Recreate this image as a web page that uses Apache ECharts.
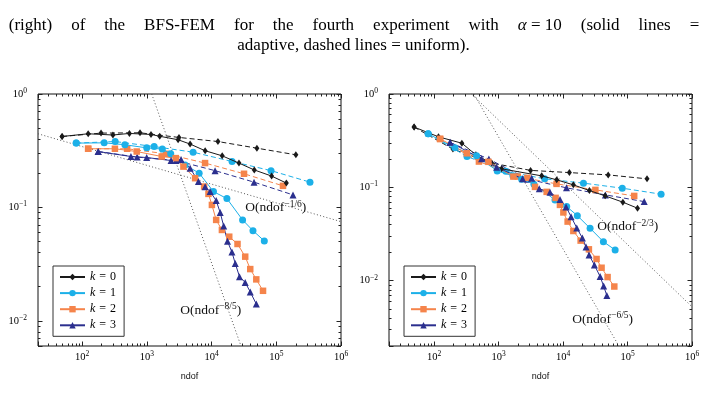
<!DOCTYPE html>
<html><head><meta charset="utf-8">
<script src="https://cdn.jsdelivr.net/npm/echarts@6/dist/echarts.min.js"></script>
<style>html,body{margin:0;padding:0;background:#fff}#c{width:707px;height:412px}</style>
</head><body><div id="c"></div>
<script>
// ---------------- data ----------------
const legendNames = ['k = 0', 'k = 1', 'k = 2', 'k = 3'];
const xTickValues = [1e2, 1e3, 1e4, 1e5, 1e6];
const yTickValuesLeft = [1e-2, 1e-1, 1];
const yTickValuesRight = [1e-2, 1e-1, 1];

// uniform refinement (dashed), same meshes in both panels
const ndofUniformK0 = [49, 196, 784, 3136, 12544, 50176, 200704];
const ndofUniformK1 = [81, 324, 1296, 5184, 20736, 82944, 331776];
const ndofUniformK2 = [124, 496, 1984, 7936, 31744, 126976];
const ndofUniformK3 = [177, 708, 2832, 11328, 45312, 181248];

// left panel
const errUniformLeftK0 = [0.422, 0.452, 0.455, 0.414, 0.381, 0.333, 0.291];
const errUniformLeftK1 = [0.369, 0.381, 0.344, 0.307, 0.254, 0.211, 0.167];
const errUniformLeftK2 = [0.329, 0.329, 0.297, 0.246, 0.198, 0.155];
const errUniformLeftK3 = [0.311, 0.2777, 0.259, 0.211, 0.167, 0.129];

const ndofAdaptLeftK0 = [49, 124, 299, 538, 1159, 1581, 3040, 4660, 7960, 14600, 26500, 45700, 84700, 143000];
const errAdaptLeftK0 = [0.422, 0.446, 0.435, 0.449, 0.440, 0.424, 0.395, 0.362, 0.316, 0.285, 0.246, 0.214, 0.189, 0.164];
const ndofAdaptLeftK1 = [81, 219, 458, 995, 1734, 2339, 3900, 6427, 10690, 17260, 30140, 43650, 65300];
const errAdaptLeftK1 = [0.369, 0.371, 0.357, 0.335, 0.327, 0.297, 0.237, 0.2005, 0.138, 0.1196, 0.0776, 0.0624, 0.0506];
const ndofAdaptLeftK2 = [124, 321, 697, 1698, 2800, 3673, 5571, 7674, 8955, 10120, 11780, 14450, 18750, 25180, 33110, 39600, 49100, 62400];
const errAdaptLeftK2 = [0.329, 0.329, 0.311, 0.281, 0.272, 0.229, 0.181, 0.1527, 0.1316, 0.1052, 0.0776, 0.0633, 0.0552, 0.0476, 0.0368, 0.0286, 0.0232, 0.0184];
const ndofAdaptLeftK3 = [177, 568, 995, 2366, 3381, 4660, 6268, 7960, 9506, 11780, 13590, 15380, 17620, 20630, 23210, 27040, 33110, 39600, 49100];
const errAdaptLeftK3 = [0.311, 0.281, 0.2754, 0.259, 0.2644, 0.222, 0.169, 0.1518, 0.138, 0.1149, 0.0900, 0.0686, 0.0503, 0.0404, 0.0321, 0.0245, 0.0218, 0.0180, 0.01405];

// right panel
const errUniformRightK0 = [0.4425, 0.257, 0.182, 0.152, 0.144, 0.136, 0.1234];
const errUniformRightK1 = [0.375, 0.214, 0.1485, 0.1234, 0.111, 0.098, 0.0845];
const errUniformRightK2 = [0.329, 0.189, 0.1305, 0.109, 0.094, 0.081];
const errUniformRightK3 = [0.3025, 0.2007, 0.1225, 0.0988, 0.0831, 0.0704];

const ndofAdaptRightK0 = [49, 117, 270, 445, 1114, 4667, 7980, 14450, 25650, 44980, 84700, 142900];
const errAdaptRightK0 = [0.4425, 0.348, 0.297, 0.223, 0.158, 0.1328, 0.1204, 0.1064, 0.0924, 0.0811, 0.0694, 0.0598];
const ndofAdaptRightK1 = [81, 210, 456, 953, 1671, 2281, 3540, 7506, 11400, 16660, 26270, 42270, 64300];
const errAdaptRightK1 = [0.375, 0.265, 0.218, 0.150, 0.133, 0.1225, 0.1082, 0.0734, 0.0622, 0.0498, 0.0365, 0.0262, 0.02135];
const ndofAdaptRightK2 = [124, 321, 697, 1698, 2800, 3673, 5571, 7674, 8955, 10120, 11780, 14450, 18750, 25180, 33110, 39600, 49100, 62400];
const errAdaptRightK2 = [0.3314, 0.2316, 0.1877, 0.1305, 0.1264, 0.1012, 0.0895, 0.0772, 0.0649, 0.0539, 0.0430, 0.0341, 0.0269, 0.0217, 0.0171, 0.01378, 0.01095, 0.00867];
const ndofAdaptRightK3 = [177, 545, 933, 2364, 3263, 4282, 6281, 8980, 11140, 13315, 16330, 19950, 22770, 25350, 30640, 37580, 42600, 47800];
const errAdaptRightK3 = [0.304, 0.2022, 0.1647, 0.1234, 0.1255, 0.0964, 0.0888, 0.0743, 0.0618, 0.0486, 0.0368, 0.0287, 0.0230, 0.01887, 0.01474, 0.01109, 0.00877, 0.00694];

// reference rate lines: end points where they meet the frame
const rateLeftSlow = [[20.8, 0.446], [1e6, 0.0749]];      // O(ndof^-1/6)
const rateLeftFast = [[1189, 1], [28500, 0.006]];         // O(ndof^-8/5)
const rateRightSlow = [[381, 1], [1e6, 0.00526]];         // O(ndof^-2/3)
const rateRightFast = [[414, 1], [73400, 0.002]];         // O(ndof^-6/5)

// caption words (second and third visible lines)
const captionLine2 = ['(right)', 'of', 'the', 'BFS-FEM', 'for', 'the', 'fourth', 'experiment', 'with', '\u03b1 = 10', '(solid', 'lines', '='];
const captionLine3 = 'adaptive, dashed lines = uniform).';

// ---------------- styling ----------------
const SERIF = '"Liberation Serif","DejaVu Serif",serif';
const COLORS = ['#1a1a1a', '#1cb0e8', '#f5844b', '#2b2f8e'];
const SYMBOLS = ['diamond', 'circle', 'rect', 'triangle'];
const SYMSIZE = [[5, 7], 7, 6.5, 7];

function zip(xs, ys) { return xs.map((x, i) => [x, ys[i]]); }

function minorValues(lo, hi) {
  const out = [];
  for (let e = -4; e <= 6; e++) for (let m = 2; m <= 9; m++) {
    const v = m * Math.pow(10, e);
    if (v > lo && v < hi) out.push(v);
  }
  return out;
}
function powLabel(v) {
  const l = Math.log10(v), e = Math.round(l);
  if (Math.abs(l - e) > 1e-6) return '';
  return '{b|10}{s|' + (e < 0 ? '\u2212' + (-e) : e) + '}';
}
const tickRich = {
  b: { fontFamily: SERIF, fontSize: 10.5, lineHeight: 14, color: '#000' },
  s: { fontFamily: SERIF, fontSize: 7.5, lineHeight: 8, verticalAlign: 'top', color: '#000' }
};
const tickLine = { color: '#222', width: 1 };

function xAxesFor(grid, min) {
  const base = { type: 'log', logBase: 10, gridIndex: grid, min: min, max: 1e6,
    axisLine: { show: false, onZero: false }, splitLine: { show: false },
    minorTick: { show: false }, minorSplitLine: { show: false } };
  const minors = minorValues(min, 1e6);
  return [
    Object.assign({}, base, { position: 'bottom', name: 'ndof', nameLocation: 'middle', nameGap: 26,
      nameTextStyle: { fontFamily: '"Liberation Sans", sans-serif', fontSize: 9, color: '#111' },
      axisTick: { inside: true, length: 4.5, lineStyle: tickLine },
      axisLabel: { interval: 0, margin: 4, formatter: powLabel, rich: tickRich } }),
    Object.assign({}, base, { position: 'top', axisTick: { inside: true, length: 4.5, lineStyle: tickLine }, axisLabel: { show: false } }),
    Object.assign({}, base, { position: 'bottom', axisTick: { inside: true, length: 2.5, lineStyle: tickLine, customValues: minors }, axisLabel: { show: false } }),
    Object.assign({}, base, { position: 'top', axisTick: { inside: true, length: 2.5, lineStyle: tickLine, customValues: minors }, axisLabel: { show: false } })
  ];
}
function yAxesFor(grid, min) {
  const base = { type: 'log', logBase: 10, gridIndex: grid, min: min, max: 1,
    axisLine: { show: false, onZero: false }, splitLine: { show: false },
    minorTick: { show: false }, minorSplitLine: { show: false } };
  const minors = minorValues(min, 1);
  return [
    Object.assign({}, base, { position: 'left',
      axisTick: { inside: true, length: 4.5, lineStyle: tickLine },
      axisLabel: { interval: 0, margin: 11, formatter: powLabel, rich: tickRich } }),
    Object.assign({}, base, { position: 'right', axisTick: { inside: true, length: 4.5, lineStyle: tickLine }, axisLabel: { show: false } }),
    Object.assign({}, base, { position: 'left', axisTick: { inside: true, length: 2.5, lineStyle: tickLine, customValues: minors }, axisLabel: { show: false } }),
    Object.assign({}, base, { position: 'right', axisTick: { inside: true, length: 2.5, lineStyle: tickLine, customValues: minors }, axisLabel: { show: false } })
  ];
}

function dataSeries(name, xs, ys, k, dashed, axisIdx) {
  return {
    type: 'line', name: name, xAxisIndex: axisIdx, yAxisIndex: axisIdx,
    data: zip(xs, ys), symbol: SYMBOLS[k], symbolSize: SYMSIZE[k], showAllSymbol: true,
    lineStyle: { color: COLORS[k], width: 1, type: dashed ? [5, 3] : 'solid' },
    itemStyle: { color: COLORS[k] }, silent: true, animation: false,
    emphasis: { disabled: true }, z: dashed ? 3 : 4
  };
}
const rateRich = {
  m: { fontFamily: SERIF, fontSize: 13.5, lineHeight: 17, color: '#111' },
  p: { fontFamily: SERIF, fontSize: 9.5, lineHeight: 11, verticalAlign: 'top', color: '#111' }
};
function rateSeries(pts, axisIdx, expText, labelCoord) {
  return {
    type: 'line', xAxisIndex: axisIdx, yAxisIndex: axisIdx, data: pts, symbol: 'none',
    lineStyle: { color: '#555', width: 1, type: [1, 2.3] }, silent: true, animation: false, z: 2,
    markPoint: { symbol: 'rect', symbolSize: 1, itemStyle: { color: 'rgba(0,0,0,0)' }, silent: true, animation: false,
      label: { show: true, position: 'inside', formatter: '{m|O(ndof}{p|' + expText + '}{m|)}', rich: rateRich },
      data: [{ coord: labelCoord }] }
  };
}

const leftX = 20.8, rightX = 20, leftYmin = 0.006, rightYmin = 0.002;
const xAxes = xAxesFor(0, leftX).concat(xAxesFor(1, rightX));
const yAxes = yAxesFor(0, leftYmin).concat(yAxesFor(1, rightYmin));

const uniL = [[ndofUniformK0, errUniformLeftK0], [ndofUniformK1, errUniformLeftK1], [ndofUniformK2, errUniformLeftK2], [ndofUniformK3, errUniformLeftK3]];
const adaL = [[ndofAdaptLeftK0, errAdaptLeftK0], [ndofAdaptLeftK1, errAdaptLeftK1], [ndofAdaptLeftK2, errAdaptLeftK2], [ndofAdaptLeftK3, errAdaptLeftK3]];
const uniR = [[ndofUniformK0, errUniformRightK0], [ndofUniformK1, errUniformRightK1], [ndofUniformK2, errUniformRightK2], [ndofUniformK3, errUniformRightK3]];
const adaR = [[ndofAdaptRightK0, errAdaptRightK0], [ndofAdaptRightK1, errAdaptRightK1], [ndofAdaptRightK2, errAdaptRightK2], [ndofAdaptRightK3, errAdaptRightK3]];

const series = [
  rateSeries(rateLeftSlow, 0, '\u22121/6', [98400, 0.0996]),
  rateSeries(rateLeftFast, 0, '\u22128/5', [9680, 0.01243]),
  rateSeries(rateRightSlow, 4, '\u22122/3', [100500, 0.038]),
  rateSeries(rateRightFast, 4, '\u22126/5', [41100, 0.00388])
];
uniL.forEach((d, k) => series.push(dataSeries(legendNames[k] + ' uniform L', d[0], d[1], k, true, 0)));
adaL.forEach((d, k) => series.push(dataSeries(legendNames[k], d[0], d[1], k, false, 0)));
uniR.forEach((d, k) => series.push(dataSeries(legendNames[k] + ' uniform R', d[0], d[1], k, true, 4)));
adaR.forEach((d, k) => series.push(dataSeries(legendNames[k], d[0], d[1], k, false, 4)));

const legendRich = {
  i: { fontFamily: SERIF, fontStyle: 'italic', fontSize: 12, lineHeight: 10, color: '#000' },
  e: { fontFamily: SERIF, fontSize: 12, lineHeight: 10, padding: [0, 4, 0, 4], color: '#000' },
  n: { fontFamily: SERIF, fontSize: 12, lineHeight: 10, color: '#000' }
};
function legendAt(left) {
  return { orient: 'vertical', left: left, top: 266, data: legendNames, selectedMode: false,
    itemWidth: 25, itemHeight: 8, itemGap: 4.1, padding: [5, 8, 5, 6],
    borderColor: '#333', borderWidth: 1, borderRadius: 0, backgroundColor: '#fff',
    formatter: n => '{i|k}{e|=}{n|' + n.slice(-1) + '}',
    textStyle: { fontFamily: SERIF, fontSize: 12, lineHeight: 10, rich: legendRich } };
}

// caption: justified second line (wide inter-word spaces), centred last line
const capRich = {
  t: { fontFamily: SERIF, fontSize: 17, color: '#000' },
  i: { fontFamily: SERIF, fontSize: 17, fontStyle: 'italic', color: '#000' },
  sp: { fontFamily: SERIF, fontSize: 17, width: 19 }
};
const line2Text = captionLine2.map(w => w.indexOf('\u03b1') === 0 ? '{i|\u03b1}{t|' + w.slice(1) + '}' : '{t|' + w + '}').join('{sp| }');

const option = {
  animation: false,
  backgroundColor: '#fff',
  grid: [
    { left: 38, top: 94, width: 303, height: 252, show: true, borderColor: '#111', borderWidth: 1, backgroundColor: 'transparent' },
    { left: 389, top: 94, width: 303, height: 252, show: true, borderColor: '#111', borderWidth: 1, backgroundColor: 'transparent' }
  ],
  xAxis: xAxes,
  yAxis: yAxes,
  legend: [legendAt(53), legendAt(404)],
  graphic: [
    { type: 'text', x: 354, y: 26, silent: true,
      style: { text: line2Text, rich: capRich, align: 'center', verticalAlign: 'middle' } },
    { type: 'text', x: 353.5, y: 46, silent: true,
      style: { text: '{t|' + captionLine3 + '}', rich: capRich, align: 'center', verticalAlign: 'middle' } }
  ],
  series: series
};
const chart = echarts.init(document.getElementById('c'));
chart.setOption(option);
</script>
</body></html>
